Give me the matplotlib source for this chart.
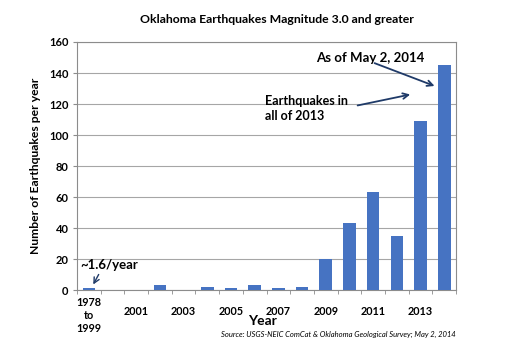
import matplotlib
matplotlib.use("Agg")
import matplotlib.pyplot as plt
import matplotlib.transforms as mtransforms
import numpy as np

# categories and counts (M3.0+ per year)
categories = ["1978 to 1999", "2000", "2001", "2002", "2003", "2004", "2005", "2006",
              "2007", "2008", "2009", "2010", "2011", "2012", "2013", "2014"]
counts = [1.6, 0, 0, 3, 0, 2, 1, 3, 1, 2, 20, 43, 63, 35, 109, 145]
tick_text = ["1978\nto\n1999", "", "2001", "", "2003", "", "2005", "", "2007", "",
             "2009", "", "2011", "", "2013", ""]
yticks = [0, 20, 40, 60, 80, 100, 120, 140, 160]

plt.rcParams['font.family'] = ['Lato', 'DejaVu Sans']

fig = plt.figure(figsize=(5.25, 3.5), dpi=100)
ax = fig.add_axes([0.1467, 0.1714, 0.722, 0.7086])

x = np.arange(len(categories))
ax.bar(x, counts, width=0.53, color="#4673C2", zorder=3)

ax.set_xlim(-0.5, len(categories) - 0.5)
ax.set_ylim(0, 160)
ax.set_yticks(yticks)
ax.yaxis.grid(True, color="#A6A6A6", linewidth=0.8, zorder=0)
for s in ax.spines.values():
    s.set_color("#8C8C8C")
    s.set_linewidth(0.8)

ax.tick_params(axis='y', length=3, color="#8C8C8C", labelsize=8, pad=3)
for lab in ax.get_yticklabels():
    lab.set_fontweight('bold')

# category labels at centers, tick marks at boundaries
ax.set_xticks(x)
ax.set_xticklabels(tick_text, fontsize=7.8, fontweight='bold', linespacing=1.25)
ax.tick_params(axis='x', which='major', length=0, pad=5)
ax.set_xticks(np.arange(-0.5, len(categories), 1), minor=True)
ax.tick_params(axis='x', which='minor', length=3, color="#8C8C8C")
shift = mtransforms.ScaledTranslation(0, -9 / 100, fig.dpi_scale_trans)
for i, lab in enumerate(ax.get_xticklabels()):
    if i > 0:
        lab.set_transform(lab.get_transform() + shift)

ax.set_ylabel("Number of Earthquakes per year", fontsize=8.7, fontweight='bold', labelpad=6)
ax.set_xlabel("Year", fontsize=10, fontweight='bold')
ax.xaxis.set_label_coords(0.49, -0.125)
ax.xaxis.label.set_va('center')

fig.text(0.528, 0.945, "Oklahoma Earthquakes Magnitude 3.0 and greater",
         ha='center', va='center', fontsize=8.8, fontweight='bold')
fig.text(0.867, 0.043, "Source: USGS-NEIC ComCat & Oklahoma Geological Survey; May 2, 2014",
         ha='right', va='center', fontsize=5.5, style='italic')

arrow = dict(arrowstyle='->', color="#1F3A68", lw=1.3)
ax.annotate("As of May 2, 2014", xy=(14.7, 131), xytext=(9.58, 149.7),
            fontsize=9.5, fontweight='bold', va='center', ha='left')
ax.annotate("", xy=(14.7, 131), xytext=(11.95, 147), arrowprops=arrow)
ax.annotate("Earthquakes in\nall of 2013", xy=(13.68, 126.5), xytext=(7.43, 117),
            fontsize=9, fontweight='bold', va='center', ha='left', linespacing=1.35)
ax.annotate("", xy=(13.68, 126.5), xytext=(11.23, 118.7), arrowprops=arrow)
ax.annotate("~1.6/year", xy=(0.13, 2), xytext=(-0.37, 16),
            fontsize=9.5, fontweight='bold', va='center', ha='left')
ax.annotate("", xy=(0.13, 2), xytext=(0.47, 11.6),
            arrowprops=dict(arrowstyle='->', color="#1F3A68", lw=1.0))

fig.savefig("out.png", dpi=100)
